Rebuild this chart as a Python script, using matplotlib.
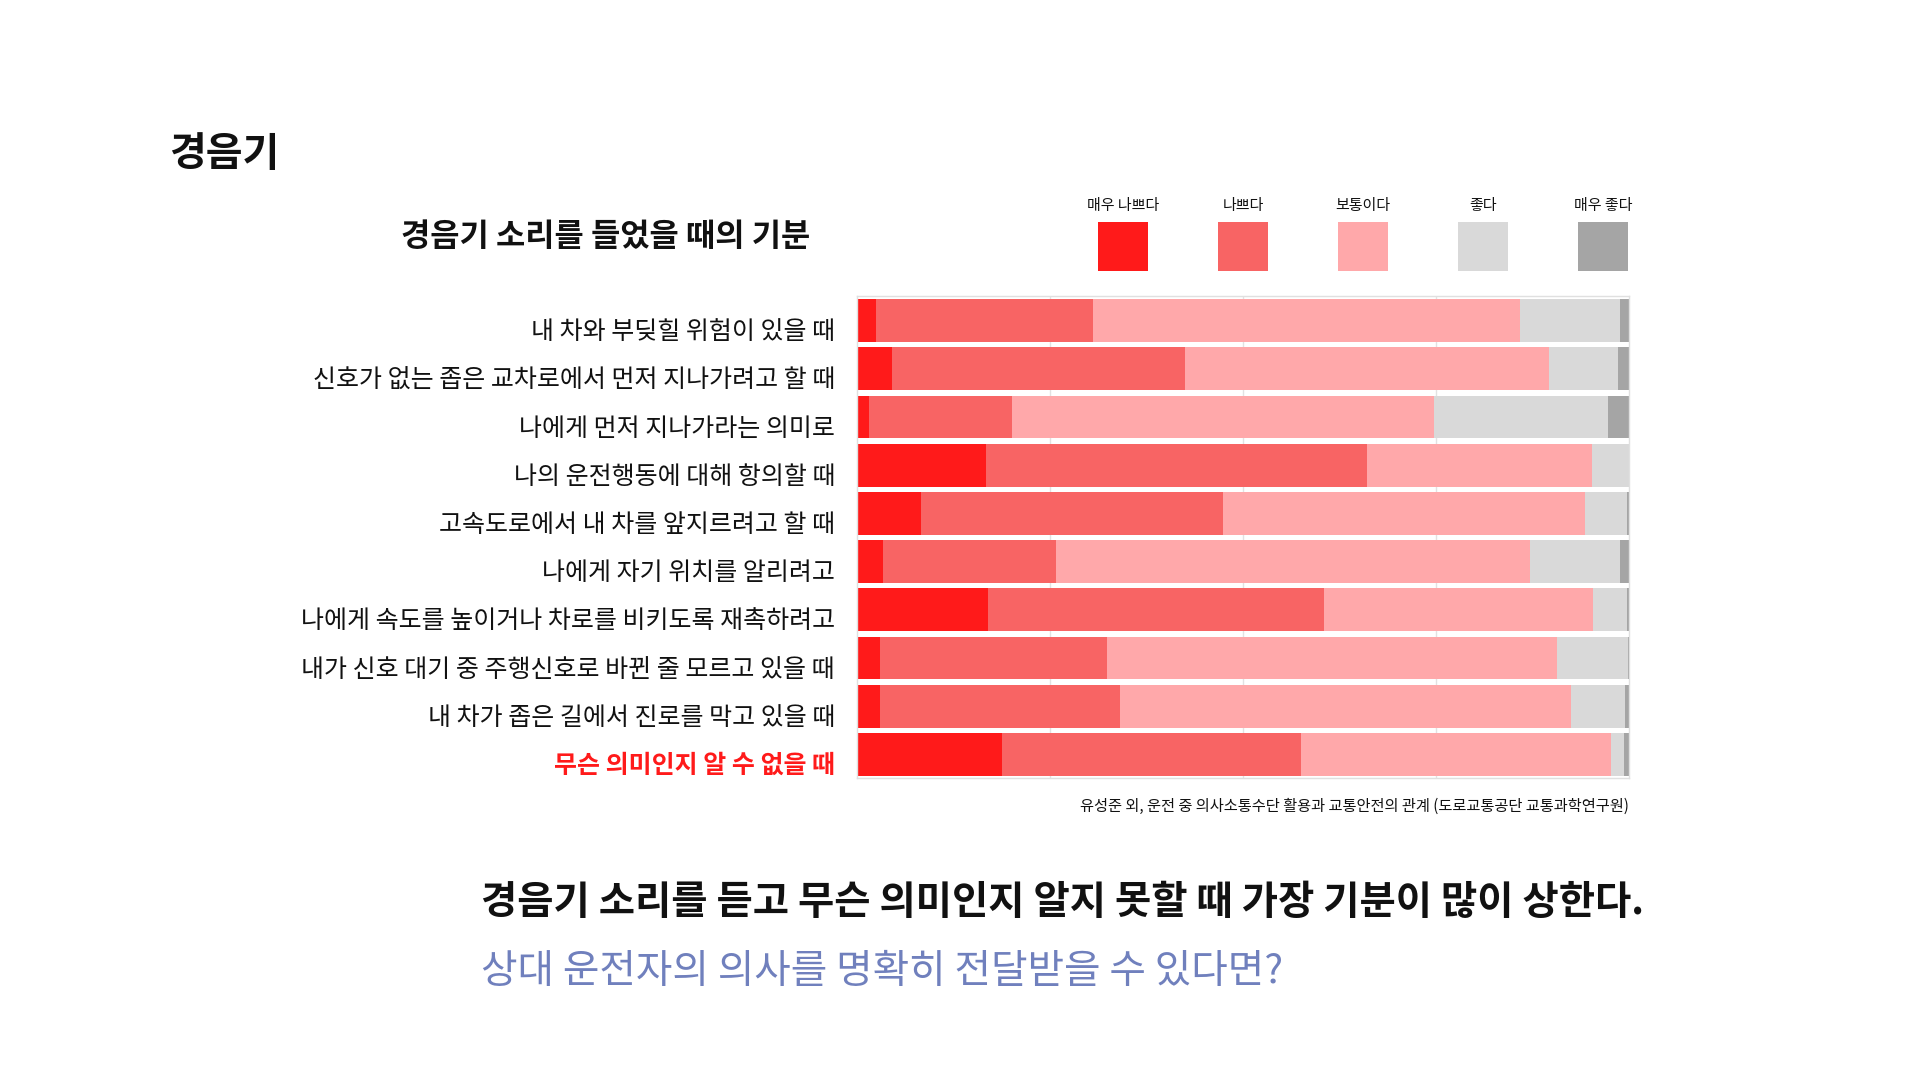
import numpy as np
import matplotlib.pyplot as plt

plt.rcParams["font.family"] = ["Noto Sans CJK KR", "DejaVu Sans"]

# 데이터 (그림에서 읽은 비율, %)
situations = [
    "내 차와 부딪힐 위험이 있을 때",
    "신호가 없는 좁은 교차로에서 먼저 지나가려고 할 때",
    "나에게 먼저 지나가라는 의미로",
    "나의 운전행동에 대해 항의할 때",
    "고속도로에서 내 차를 앞지르려고 할 때",
    "나에게 자기 위치를 알리려고",
    "나에게 속도를 높이거나 차로를 비키도록 재촉하려고",
    "내가 신호 대기 중 주행신호로 바뀐 줄 모르고 있을 때",
    "내 차가 좁은 길에서 진로를 막고 있을 때",
    "무슨 의미인지 알 수 없을 때",
]
mood_labels = ["매우 나쁘다", "나쁘다", "보통이다", "좋다", "매우 좋다"]
very_bad = [2.5, 4.5, 1.6, 16.7, 8.3, 3.3, 16.9, 3.0, 3.0, 18.8]
bad = [28.0, 38.0, 18.5, 49.4, 39.1, 22.5, 43.6, 29.4, 31.1, 38.7]
normal = [55.4, 47.1, 54.6, 29.1, 46.9, 61.3, 34.8, 58.2, 58.4, 40.2]
good = [12.9, 9.0, 22.6, 4.8, 5.4, 11.7, 4.4, 9.2, 7.0, 1.7]
very_good = [1.2, 1.4, 2.7, 0.0, 0.3, 1.2, 0.3, 0.2, 0.5, 0.6]

colors = ["#ff1a1a", "#f86464", "#ffa8aa", "#d9d9d9", "#a5a5a5"]

fig = plt.figure(figsize=(19.2, 10.8), dpi=100)

# ------------------------------------------------------------------
# 누적 막대
# ------------------------------------------------------------------
ax = fig.add_axes([0.4464, 0.2792, 0.4021, 0.4463])
series = [very_bad, bad, normal, good, very_good]
y = np.arange(len(situations))
left = np.zeros(len(situations))
for vals, col in zip(series, colors):
    ax.barh(y, vals, left=left, height=0.89, color=col, linewidth=0, zorder=2)
    left += np.array(vals)

ax.set_xlim(0, 100)
ax.set_ylim(len(situations) - 0.5, -0.5)
ax.set_xticks([25, 50, 75])
ax.set_yticks([])
ax.tick_params(axis="x", length=0, labelbottom=False)
ax.grid(axis="x", color="#e2e2e2", linewidth=1, zorder=0)
for s in ax.spines.values():
    s.set_color("#e0e0e0")
    s.set_linewidth(1)

for i, txt in enumerate(situations):
    last = i == len(situations) - 1
    ax.text(
        -0.0285, i + 0.24, txt,
        transform=ax.get_yaxis_transform(),
        ha="right", va="center", fontsize=18,
        color="#ff1a1a" if last else "#111111",
        fontweight="bold" if last else "normal",
    )

# ------------------------------------------------------------------
# 범례 (위쪽 네모 칸)
# ------------------------------------------------------------------
lg = fig.add_axes([1063 / 1920, 0.749, 600 / 1920, 0.0454])
lg.bar(range(len(mood_labels)), 1, width=0.417, color=colors, linewidth=0)
lg.set_xlim(-0.5, len(mood_labels) - 0.5)
lg.set_ylim(0, 1)
lg.axis("off")
for i, lab in enumerate(mood_labels):
    lg.text(i, 1.33, lab, ha="center", va="center", fontsize=10.8,
            color="#111111", clip_on=False)

# ------------------------------------------------------------------
# 제목, 출처, 결론
# ------------------------------------------------------------------
fig.text(169 / 1920, 1 - 155 / 1080, "경음기", ha="left", va="center",
         fontsize=28.8, fontweight="bold", color="#111111")
fig.text(810 / 1920, 1 - 237 / 1080, "경음기 소리를 들었을 때의 기분",
         ha="right", va="center", fontsize=22.9, fontweight="bold", color="#111111")
fig.text(1629 / 1920, 1 - 806 / 1080,
         "유성준 외, 운전 중 의사소통수단 활용과 교통안전의 관계 (도로교통공단 교통과학연구원)",
         ha="right", va="center", fontsize=11, color="#111111")
fig.text(481 / 1920, 1 - 903 / 1080,
         "경음기 소리를 듣고 무슨 의미인지 알지 못할 때 가장 기분이 많이 상한다.",
         ha="left", va="center", fontsize=28.4, fontweight="bold", color="#111111")
fig.text(481 / 1920, 1 - 972 / 1080,
         "상대 운전자의 의사를 명확히 전달받을 수 있다면?",
         ha="left", va="center", fontsize=28.6, color="#7080bd")

fig.savefig("out.png", dpi=100, facecolor="white")
